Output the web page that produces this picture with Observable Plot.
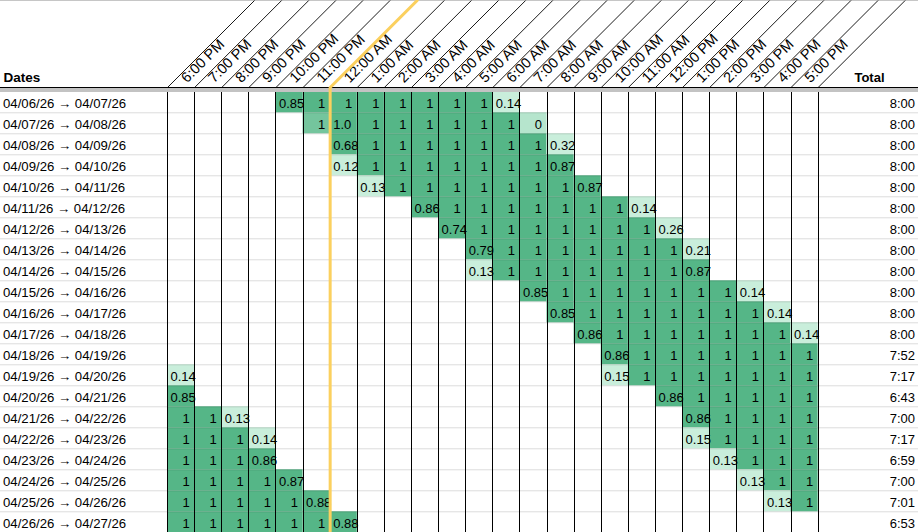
<!DOCTYPE html>
<html><head><meta charset="utf-8">
<script src="https://cdn.jsdelivr.net/npm/d3@7"></script>
<script src="https://cdn.jsdelivr.net/npm/@observablehq/plot@0.6"></script>
<style>html,body{margin:0;padding:0;background:#fff;} svg{display:block}</style>
</head><body><div id="chart"></div><script>
const hours = ["6:00 PM","7:00 PM","8:00 PM","9:00 PM","10:00 PM","11:00 PM","12:00 AM","1:00 AM","2:00 AM","3:00 AM","4:00 AM","5:00 AM","6:00 AM","7:00 AM","8:00 AM","9:00 AM","10:00 AM","11:00 AM","12:00 PM","1:00 PM","2:00 PM","3:00 PM","4:00 PM","5:00 PM"];
const dates = ["04/06/26 → 04/07/26","04/07/26 → 04/08/26","04/08/26 → 04/09/26","04/09/26 → 04/10/26","04/10/26 → 04/11/26","04/11/26 → 04/12/26","04/12/26 → 04/13/26","04/13/26 → 04/14/26","04/14/26 → 04/15/26","04/15/26 → 04/16/26","04/16/26 → 04/17/26","04/17/26 → 04/18/26","04/18/26 → 04/19/26","04/19/26 → 04/20/26","04/20/26 → 04/21/26","04/21/26 → 04/22/26","04/22/26 → 04/23/26","04/23/26 → 04/24/26","04/24/26 → 04/25/26","04/25/26 → 04/26/26","04/26/26 → 04/27/26"];
const totals = ["8:00","8:00","8:00","8:00","8:00","8:00","8:00","8:00","8:00","8:00","8:00","8:00","7:52","7:17","6:43","7:00","7:17","6:59","7:00","7:01","6:53"];
// sleep runs: row index, first hour, displayed cell values
const runs = [
  {row:0,  start:"10:00 PM", values:["0.85","1","1","1","1","1","1","1","0.14"]},
  {row:1,  start:"11:00 PM", values:["1","1.0","1","1","1","1","1","1","0"]},
  {row:2,  start:"12:00 AM", values:["0.68","1","1","1","1","1","1","1","0.32"]},
  {row:3,  start:"12:00 AM", values:["0.12","1","1","1","1","1","1","1","0.87"]},
  {row:4,  start:"1:00 AM",  values:["0.13","1","1","1","1","1","1","1","0.87"]},
  {row:5,  start:"3:00 AM",  values:["0.86","1","1","1","1","1","1","1","0.14"]},
  {row:6,  start:"4:00 AM",  values:["0.74","1","1","1","1","1","1","1","0.26"]},
  {row:7,  start:"5:00 AM",  values:["0.79","1","1","1","1","1","1","1","0.21"]},
  {row:8,  start:"5:00 AM",  values:["0.13","1","1","1","1","1","1","1","0.87"]},
  {row:9,  start:"7:00 AM",  values:["0.85","1","1","1","1","1","1","1","0.14"]},
  {row:10, start:"8:00 AM",  values:["0.85","1","1","1","1","1","1","1","0.14"]},
  {row:11, start:"9:00 AM",  values:["0.86","1","1","1","1","1","1","1","0.14"]},
  {row:12, start:"10:00 AM", values:["0.86","1","1","1","1","1","1","1"]},
  {row:13, start:"6:00 PM",  values:["0.14"]},
  {row:13, start:"10:00 AM", values:["0.15","1","1","1","1","1","1","1"]},
  {row:14, start:"6:00 PM",  values:["0.85"]},
  {row:14, start:"12:00 PM", values:["0.86","1","1","1","1","1"]},
  {row:15, start:"6:00 PM",  values:["1","1","0.13"]},
  {row:15, start:"1:00 PM",  values:["0.86","1","1","1","1"]},
  {row:16, start:"6:00 PM",  values:["1","1","1","0.14"]},
  {row:16, start:"1:00 PM",  values:["0.15","1","1","1","1"]},
  {row:17, start:"6:00 PM",  values:["1","1","1","0.86"]},
  {row:17, start:"2:00 PM",  values:["0.13","1","1","1"]},
  {row:18, start:"6:00 PM",  values:["1","1","1","1","0.87"]},
  {row:18, start:"3:00 PM",  values:["0.13","1","1"]},
  {row:19, start:"6:00 PM",  values:["1","1","1","1","1","0.88"]},
  {row:19, start:"4:00 PM",  values:["0.13","1"]},
  {row:20, start:"6:00 PM",  values:["1","1","1","1","1","1","0.88"]}
];
// cells whose fill differs from their displayed value
const shadeOverrides = [{row:1, hour:"11:00 PM", shade:0.57},{row:1, hour:"7:00 AM", shade:0.40}];
const nowMarker = "12:00 AM";
const headerDates = "Dates", headerTotal = "Total";

// layout
const W = 918, H = 532;
const X0 = 167, COLW = 27.11, Y0 = 91.3, ROWH = 21;
const HDR_LINE = 87, BAND_TOP = 88, BAND_BOT = 92, HDR_BASE = 81.5, LABEL_BASE = 83;
const yu = p => (p - Y0) / ROWH;

const cells = [];
runs.forEach(r => {
  const s = hours.indexOf(r.start);
  r.values.forEach((label, k) => {
    const col = s + k;
    const ov = shadeOverrides.find(o => o.row === r.row && hours.indexOf(o.hour) === col);
    cells.push({row: r.row, col, label, shade: ov ? ov.shade : +label});
  });
});
const decCells = cells.filter(c => c.label.includes("."));
const intCells = cells.filter(c => !c.label.includes("."));
const bounds = d3.range(hours.length + 1);
const rowLines = d3.range(1, dates.length + 1);
const mIdx = hours.indexOf(nowMarker);
const diagCols = HDR_LINE / COLW;
const markerPath = [{x: mIdx, y: yu(H)}, {x: mIdx, y: yu(HDR_LINE)}, {x: mIdx + diagCols, y: yu(0)}];

const chart = Plot.plot({
  width: W, height: H, margin: 0,
  x: {type: "linear", domain: [0, hours.length], range: [X0, X0 + COLW * hours.length], axis: null},
  y: {type: "linear", domain: [yu(0), yu(H)], range: [0, H], axis: null},
  color: {type: "linear", domain: [0.35, 0.65], range: ["#c9eedb", "#55b687"], clamp: true},
  style: {fontFamily: "'Liberation Sans', Arial, Helvetica, sans-serif", fontSize: "13px", color: "#000", background: "#fff"},
  marks: [
    Plot.rect(cells, {x1: "col", x2: d => d.col + 1, y1: "row", y2: d => d.row + 1, fill: "shade"}),
    Plot.ruleY(rowLines, {stroke: "#000", strokeOpacity: 0.14}),
    Plot.ruleX(bounds, {y1: yu(BAND_BOT), y2: yu(H), stroke: "#000", shapeRendering: "crispEdges"}),
    Plot.rect([0], {y1: yu(BAND_TOP), y2: yu(BAND_BOT), fill: "#c3c3c3"}),
    Plot.ruleY([yu(HDR_LINE)], {stroke: "#000"}),
    Plot.ruleY([yu(0)], {stroke: "#c6c6c6"}),
    Plot.link(bounds, {x1: d => d, y1: yu(HDR_LINE), x2: d => d + diagCols, y2: yu(0), stroke: "#000", strokeWidth: 0.9}),
    Plot.text(hours, {x: (d, i) => i, y: yu(LABEL_BASE), dx: 19.5, rotate: -45, text: d => d, textAnchor: "start", lineAnchor: "bottom", fontSize: 14.5, fill: "#000"}),
    Plot.text([headerDates], {frameAnchor: "left", y: yu(HDR_BASE), dx: 3, text: d => d, textAnchor: "start", lineAnchor: "bottom", fontWeight: "bold", fontSize: 13.5, fill: "#000"}),
    Plot.text([headerTotal], {frameAnchor: "right", y: yu(HDR_BASE), dx: -34, text: d => d, textAnchor: "end", lineAnchor: "bottom", fontWeight: "bold", fontSize: 13, fill: "#000"}),
    Plot.text(dates, {frameAnchor: "left", y: (d, i) => i + 0.75, dx: 2.5, text: d => d, textAnchor: "start", lineAnchor: "bottom", fontSize: 13.2, fill: "#000"}),
    Plot.text(totals, {frameAnchor: "right", y: (d, i) => i + 0.76, dx: -3.5, text: d => d, textAnchor: "end", lineAnchor: "bottom", fontSize: 13, fill: "#000"}),
    Plot.text(decCells, {x: "col", y: d => d.row + 0.78, dx: 3, text: "label", textAnchor: "start", lineAnchor: "bottom", fontSize: 13, fill: "#000", ariaLabel: "cell-dec"}),
    Plot.text(intCells, {x: d => d.col + 1, y: d => d.row + 0.78, dx: -5, text: "label", textAnchor: "end", lineAnchor: "bottom", fontSize: 13, fill: "#000"}),
    Plot.line(markerPath, {x: "x", y: "y", stroke: "#fbd05e", strokeWidth: 3})
  ]
});

// clip the overflowing decimal labels to their own cells
const xs = chart.scale("x"), ys = chart.scale("y");
const NS = "http://www.w3.org/2000/svg";
const g = chart.querySelector('g[aria-label="cell-dec"]');
if (g) {
  let tx = 0, ty = 0;
  const tf = g.transform && g.transform.baseVal.consolidate();
  if (tf) { tx = tf.matrix.e; ty = tf.matrix.f; }
  const defs = document.createElementNS(NS, "defs");
  chart.insertBefore(defs, chart.firstChild);
  g.querySelectorAll("text").forEach((t, i) => {
    const c = decCells[i];
    const cp = document.createElementNS(NS, "clipPath");
    cp.setAttribute("id", "cellclip" + i);
    cp.setAttribute("clipPathUnits", "userSpaceOnUse");
    const r = document.createElementNS(NS, "rect");
    const x1 = xs.apply(c.col), x2 = xs.apply(c.col + 1);
    const y1 = ys.apply(c.row), y2 = ys.apply(c.row + 1);
    r.setAttribute("x", x1 - tx); r.setAttribute("y", y1 - ty);
    r.setAttribute("width", x2 - x1); r.setAttribute("height", y2 - y1);
    cp.appendChild(r); defs.appendChild(cp);
    t.setAttribute("clip-path", `url(#cellclip${i})`);
  });
}
document.getElementById("chart").appendChild(chart);
</script></body></html>
